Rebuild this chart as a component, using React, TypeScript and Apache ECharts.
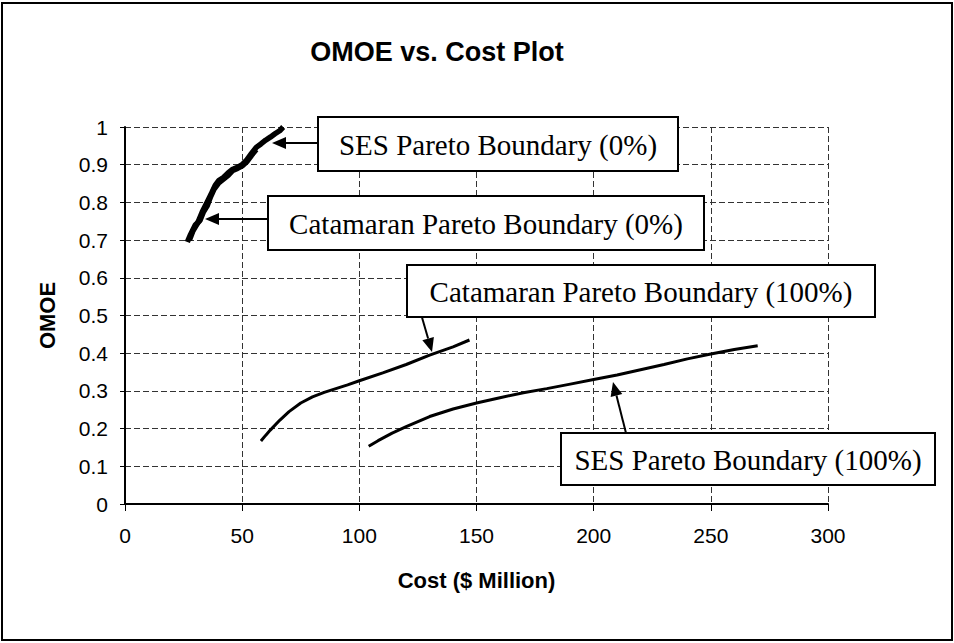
import React, { useEffect, useRef } from "react";
import * as echarts from "echarts";

// ---- data ----
const xTicksMax = 300;
const yTicksMax = 1;

const sesZeroCost = [27.5, 29, 31, 33, 35, 37, 38.5, 40, 42, 44, 46, 48, 50, 52, 54, 56, 58, 60, 62, 64, 66, 67.5];
const sesZeroOmoe = [0.7, 0.725, 0.745, 0.775, 0.8, 0.825, 0.845, 0.858, 0.866, 0.878, 0.888, 0.893, 0.9, 0.913, 0.93, 0.946, 0.955, 0.965, 0.973, 0.982, 0.99, 1.0];

const catZeroCost = [26.6, 28, 30, 32, 33.5, 35, 36.5, 38, 40, 42, 44, 46, 48, 50, 52, 54, 56];
const catZeroOmoe = [0.695, 0.715, 0.74, 0.752, 0.775, 0.79, 0.815, 0.835, 0.852, 0.862, 0.872, 0.885, 0.89, 0.897, 0.908, 0.925, 0.94];

const catFullCost = [58, 60, 62, 66, 70, 75, 80, 85, 90, 95, 100, 110, 120, 130, 140, 147];
const catFullOmoe = [0.167, 0.182, 0.196, 0.222, 0.245, 0.268, 0.284, 0.296, 0.306, 0.316, 0.327, 0.348, 0.37, 0.395, 0.417, 0.435];

const sesFullCost = [104, 108, 114, 120, 130, 140, 150, 160, 170, 180, 190, 200, 210, 220, 230, 240, 250, 260, 270];
const sesFullOmoe = [0.153, 0.168, 0.188, 0.205, 0.232, 0.252, 0.268, 0.282, 0.295, 0.306, 0.318, 0.33, 0.342, 0.356, 0.37, 0.385, 0.398, 0.41, 0.42];

const labels = [
  "SES Pareto Boundary (0%)",
  "Catamaran Pareto Boundary (0%)",
  "Catamaran Pareto Boundary (100%)",
  "SES Pareto Boundary (100%)",
];

const zip = (xs: number[], ys: number[]) => xs.map((x, i) => [x, ys[i]]);

// annotation layout (pixels)
const boxes = [
  { x: 318, y: 117, w: 360, h: 54 },
  { x: 268, y: 196, w: 436, h: 54 },
  { x: 407, y: 265, w: 468, h: 52 },
  { x: 561, y: 433, w: 374, h: 52 },
];
const arrows = [
  { x1: 318, y1: 143, x2: 272, y2: 143 },
  { x1: 268, y1: 219, x2: 205, y2: 219 },
  { x1: 421, y1: 314, x2: 432, y2: 352 },
  { x1: 626, y1: 433, x2: 613, y2: 382 },
];

function arrowElems(a: { x1: number; y1: number; x2: number; y2: number }) {
  const dx = a.x2 - a.x1;
  const dy = a.y2 - a.y1;
  const len = Math.sqrt(dx * dx + dy * dy);
  const ux = dx / len;
  const uy = dy / len;
  const hl = 14;
  const hw = 6;
  const bx = a.x2 - ux * hl;
  const by = a.y2 - uy * hl;
  return [
    {
      type: "line",
      shape: { x1: a.x1, y1: a.y1, x2: bx, y2: by },
      style: { stroke: "#000", lineWidth: 2 },
      z: 10,
    },
    {
      type: "polygon",
      shape: {
        points: [
          [a.x2, a.y2],
          [bx - uy * hw, by + ux * hw],
          [bx + uy * hw, by - ux * hw],
        ],
      },
      style: { fill: "#000" },
      z: 10,
    },
  ];
}

export default function App() {
  const ref = useRef<HTMLDivElement>(null);
  useEffect(() => {
    if (!ref.current) return;
    const chart = echarts.init(ref.current, undefined, { renderer: "svg" });
    const gridLine = { show: true, lineStyle: { color: "#333", width: 1, type: [6, 3] as any } };
    const graphics: any[] = [
      {
        type: "rect",
        shape: { x: 2, y: 3, width: 950, height: 637 },
        style: { fill: "none", stroke: "#000", lineWidth: 2 },
        z: 1,
        silent: true,
      },
      {
        type: "text",
        x: 437,
        y: 52,
        style: {
          text: "OMOE vs. Cost Plot",
          font: 'bold 27px "Liberation Sans", Arial, sans-serif',
          fill: "#000",
          textAlign: "center",
          textVerticalAlign: "middle",
        },
        z: 10,
      },
    ];
    arrows.forEach((a) => graphics.push(...arrowElems(a)));
    boxes.forEach((b, i) => {
      graphics.push({
        type: "rect",
        shape: { x: b.x, y: b.y, width: b.w, height: b.h },
        style: { fill: "#fff", stroke: "#000", lineWidth: 2 },
        z: 11,
      });
      graphics.push({
        type: "text",
        x: b.x + b.w / 2,
        y: b.y + b.h / 2 + 1,
        style: {
          text: labels[i],
          font: '29px "Liberation Serif", "Times New Roman", serif',
          fill: "#000",
          textAlign: "center",
          textVerticalAlign: "middle",
        },
        z: 12,
      });
    });

    const lineSeries = (name: string, data: number[][], width: number) => ({
      name,
      type: "line",
      data,
      showSymbol: false,
      symbol: "none",
      lineStyle: { color: "#000", width },
      itemStyle: { color: "#000" },
      z: 5,
    });

    chart.setOption({
      animation: false,
      backgroundColor: "#fff",
      grid: { left: 125, right: 126, top: 127, bottom: 139 },
      xAxis: {
        type: "value",
        min: 0,
        max: xTicksMax,
        interval: 50,
        name: "Cost ($ Million)",
        nameLocation: "middle",
        nameGap: 65,
        nameTextStyle: { fontFamily: '"Liberation Sans", Arial', fontWeight: "bold", fontSize: 22, color: "#000" },
        axisLine: { show: true, onZero: false, lineStyle: { color: "#000", width: 2 } },
        axisTick: { show: true, length: 7, lineStyle: { color: "#000", width: 1 } },
        axisLabel: { margin: 21, fontFamily: '"Liberation Sans", Arial', fontSize: 21, color: "#000" },
        splitLine: gridLine,
      },
      yAxis: {
        type: "value",
        min: 0,
        max: yTicksMax,
        interval: 0.1,
        name: "OMOE",
        nameLocation: "middle",
        nameGap: 67,
        nameTextStyle: { fontFamily: '"Liberation Sans", Arial', fontWeight: "bold", fontSize: 22, color: "#000" },
        axisLine: { show: true, onZero: false, lineStyle: { color: "#000", width: 2 } },
        axisTick: { show: true, length: 5, lineStyle: { color: "#000", width: 1 } },
        axisLabel: { margin: 17, fontFamily: '"Liberation Sans", Arial', fontSize: 21, color: "#000" },
        splitLine: gridLine,
      },
      series: [
        lineSeries(labels[0], zip(sesZeroCost, sesZeroOmoe), 5.5),
        lineSeries(labels[1], zip(catZeroCost, catZeroOmoe), 5.5),
        lineSeries(labels[2], zip(catFullCost, catFullOmoe), 3),
        lineSeries(labels[3], zip(sesFullCost, sesFullOmoe), 3),
      ],
      graphic: graphics,
    });
    return () => chart.dispose();
  }, []);
  return (
    <div
      ref={ref}
      style={{ position: "absolute", left: 0, top: 0, width: 954, height: 643, background: "#fff" }}
    />
  );
}
